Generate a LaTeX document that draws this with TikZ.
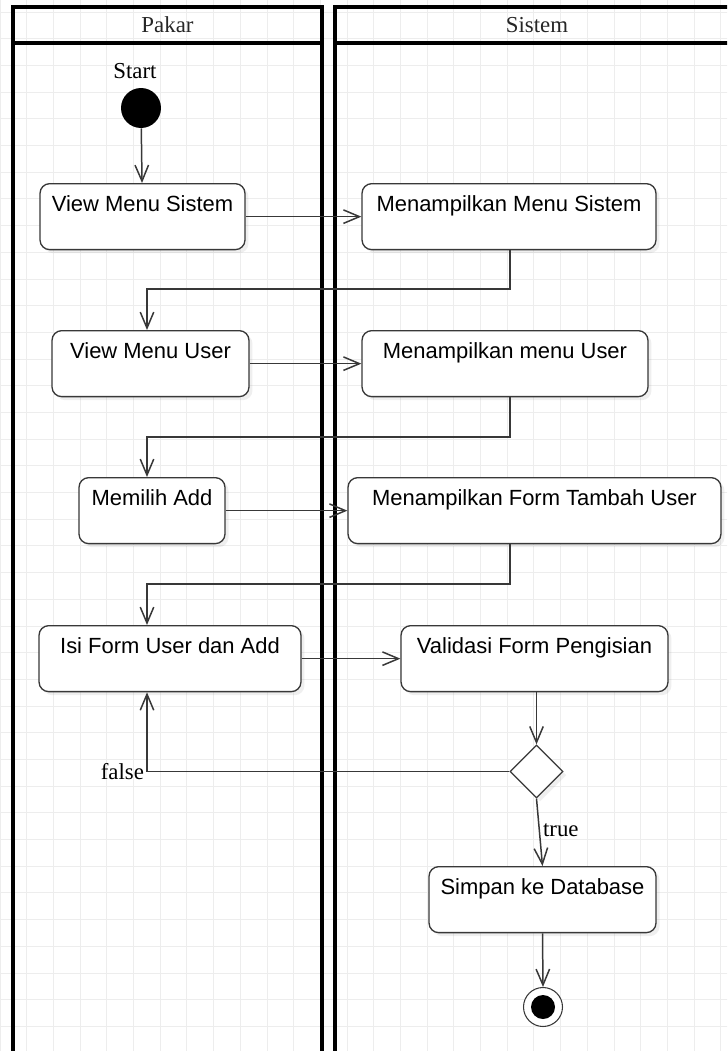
\documentclass[tikz,border=0pt]{standalone}
\usepackage{fontspec}
\setmainfont{Liberation Serif}
\setsansfont{Liberation Sans}
\usetikzlibrary{positioning,arrows.meta,shapes.geometric,shadows}
\definecolor{gridgray}{HTML}{EDEDED}
\definecolor{linegray}{HTML}{383838}
\tikzstyle{lane}=[draw=black,line width=2pt]
\tikzstyle{lanetitle}=[font=\fontsize{13}{15}\selectfont,text=black!85]
\tikzstyle{act}=[draw=linegray,line width=0.75pt,rounded corners=5.5pt,fill=white,
  font=\sffamily\fontsize{12.5}{14}\selectfont,inner sep=0pt,anchor=north,
  text height=0.56cm,text depth=0.76cm,
  drop shadow={shadow xshift=2pt,shadow yshift=-2pt,opacity=0.12}]
\tikzstyle{decision}=[diamond,draw=linegray,line width=0.75pt,fill=white,
  minimum width=1.06cm,minimum height=1.06cm,inner sep=0pt,
  drop shadow={shadow xshift=2pt,shadow yshift=-2pt,opacity=0.12}]
\tikzstyle{initial}=[circle,fill=black,minimum size=0.8cm,inner sep=0pt]
\tikzstyle{final}=[circle,draw=linegray,line width=0.6pt,fill=white,
  minimum size=0.78cm,inner sep=0pt,
  path picture={\fill[black] (path picture bounding box.center) circle (0.24cm);}]
\tikzstyle{guard}=[font=\fontsize{13}{15}\selectfont,inner sep=1pt]
\tikzstyle{flow}=[draw=linegray,line width=0.85pt,->]

\begin{document}
\begin{tikzpicture}[x=0.02cm,y=-0.02cm,>={Straight Barb[length=0.32cm,width=0.27cm]}]
  \useasboundingbox (0,0) rectangle (727,1051);
  \clip (0,0) rectangle (727,1051);
  \fill[white] (0,0) rectangle (727,1051);
  \draw[gridgray,line width=0.5pt,step=0.534cm,yshift=-0.24cm] (0,-30) grid (740,1060);

  \draw[lane] (13,1070) -- (13,7) -- (322,7) -- (322,1070);
  \draw[lane] (13,43) -- (322,43);
  \draw[lane] (335,1070) -- (335,7) -- (740,7);
  \draw[lane] (335,43) -- (740,43);
  \node[lanetitle] (pakar) at (167.5,25) {Pakar};
  \node[lanetitle] (sistem) at (537,25) {Sistem};

  \node[guard] (startlbl) at (135,71) {Start};
  \node[initial] (start) at (141,108) {};
  \node[act,minimum width=4.1cm] (vms) at (142.5,183) {View Menu Sistem};
  \node[act,minimum width=5.88cm] (mms) at (509,183) {Menampilkan Menu Sistem};
  \node[act,minimum width=3.94cm] (vmu) at (150.5,330) {View Menu User};
  \node[act,minimum width=5.72cm] (mmu) at (505,330) {Menampilkan menu User};
  \node[act,minimum width=2.92cm] (ma) at (152,477) {Memilih Add};
  \node[act,minimum width=7.46cm] (mftu) at (534.5,477) {Menampilkan Form Tambah User};
  \node[act,minimum width=5.24cm] (ifua) at (170,625) {Isi Form User dan Add};
  \node[act,minimum width=5.34cm] (vfp) at (534.5,625) {Validasi Form Pengisian};
  \node[decision] (dec) at (536.5,771.5) {};
  \node[act,minimum width=4.54cm] (skd) at (542.5,866) {Simpan ke Database};
  \node[final] (stop) at (543,1007) {};

  \path[every edge/.style={flow}]
    (start) edge (vms)
    (vms.east) edge (mms.west)
    (vmu.east) edge (mmu.west)
    (ma.east) edge (mftu.west)
    (ifua.east) edge (vfp.west)
    (dec.north |- vfp.south) edge (dec.north)
    (dec.south) edge (skd.north)
    (skd.south) edge (stop.north);
  \foreach \a/\b/\y in {mms/vmu/289,mmu/ma/437,mftu/ifua/584}
    \draw[flow] (\a.south -| 510,\y) -- (510,\y) -- (147,\y) -- (\b.north -| 147,\y);
  \draw[flow] (dec.west) -- (147,771.5) -- (ifua.south -| 147,0);
  \node[guard,anchor=east] (falselbl) at (146,771.5) {false};
  \node[guard,anchor=west] (truelbl) at (541,830) {true};
\end{tikzpicture}
\end{document}
